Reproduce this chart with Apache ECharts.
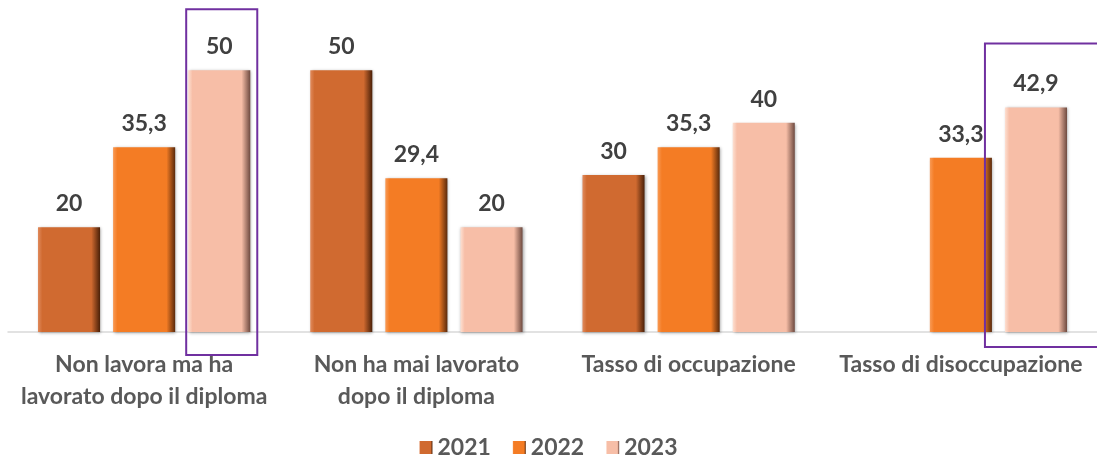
<!DOCTYPE html>
<html>
<head>
<meta charset="utf-8">
<script src="https://cdn.jsdelivr.net/npm/echarts@6/dist/echarts.min.js"></script>
<style>
  html, body { margin: 0; padding: 0; background: #fff; }
  #main { width: 1097px; height: 460px; }
</style>
</head>
<body>
<div id="main"></div>
<script>
const categories = [
  'Non lavora ma ha\nlavorato dopo il diploma',
  'Non ha mai lavorato\ndopo il diploma',
  'Tasso di occupazione',
  'Tasso di disoccupazione'
];
const years = ['2021', '2022', '2023'];
const values2021 = [20, 50, 30, null];
const values2022 = [35.3, 29.4, 35.3, 33.3];
const values2023 = [50, 20, 40, 42.9];
// which bars get the purple frame: [seriesIndex, dataIndex]
const highlighted = [[2, 0], [2, 3]];

const font = 'Lato, "Open Sans", sans-serif';

function bevel(light, base, dark) {
  return new echarts.graphic.LinearGradient(0, 0, 1, 0, [
    { offset: 0, color: light },
    { offset: 0.07, color: base },
    { offset: 0.86, color: base },
    { offset: 1, color: dark }
  ]);
}

const colors = [
  bevel('#e08a5c', '#d06a30', '#4a2008'),
  bevel('#f99a55', '#f47c24', '#5a2a0c'),
  bevel('#fde0d2', '#f7bea7', '#6e4a40')
];
const legendColors = ['#c8601f', '#f07a25', '#e8b09c'];
const allValues = [values2021, values2022, values2023];

const chart = echarts.init(document.getElementById('main'));

function makeSeries(i) {
  return {
    name: years[i],
    type: 'bar',
    data: allValues[i],
    barWidth: '22.8%',
    barGap: '21%',
    color: legendColors[i],
    itemStyle: {
      color: colors[i],
      shadowColor: 'rgba(0,0,0,0.35)',
      shadowBlur: 3,
      shadowOffsetX: 1,
      shadowOffsetY: 1
    },
    label: {
      show: true,
      position: 'top',
      distance: 12,
      color: '#404040',
      fontFamily: font,
      fontWeight: 'bold',
      fontSize: 23,
      formatter: p => String(p.value).replace('.', ',')
    }
  };
}

chart.setOption({
  animation: false,
  textStyle: { fontFamily: font },
  grid: { left: 8, right: 0, top: 18, bottom: 128 },
  legend: {
    data: years,
    bottom: -4,
    left: 'center',
    itemWidth: 13,
    itemHeight: 13,
    itemGap: 22,
    itemTextGap: 7,
    icon: 'rect',
    textStyle: { color: '#595959', fontSize: 23, fontWeight: 'bold', fontFamily: font }
  },
  xAxis: {
    type: 'category',
    data: categories,
    axisLine: { show: true, lineStyle: { color: '#d9d9d9', width: 1.5 } },
    axisTick: { show: false },
    axisLabel: {
      interval: 0,
      margin: 17,
      color: '#595959',
      fontSize: 23,
      fontWeight: 'bold',
      lineHeight: 32,
      fontFamily: font
    }
  },
  yAxis: {
    type: 'value',
    min: 0,
    max: 60,
    show: false,
    splitLine: { show: false }
  },
  series: [makeSeries(0), makeSeries(1), makeSeries(2)]
});

// purple frames around highlighted bars, placed from the bar layout
const frames = [
  { padL: 2, padR: 7, padT: 61, padB: 23 },
  { padL: 20, padR: 40, padT: 64, padB: 15 }
];
const graphics = highlighted.map((h, k) => {
  const layout = chart.getModel().getSeriesByIndex(h[0]).getData().getItemLayout(h[1]);
  const f = frames[k];
  const x0 = layout.x - f.padL;
  const x1 = layout.x + layout.width + f.padR;
  const yTop = layout.y + layout.height;
  const yBase = layout.y;
  return {
    type: 'rect',
    shape: { x: x0, y: yTop - f.padT, width: x1 - x0, height: yBase - yTop + f.padT + f.padB },
    style: { fill: 'none', stroke: '#7030a0', lineWidth: 2 },
    z: 100
  };
});
chart.setOption({ graphic: graphics });
</script>
</body>
</html>
